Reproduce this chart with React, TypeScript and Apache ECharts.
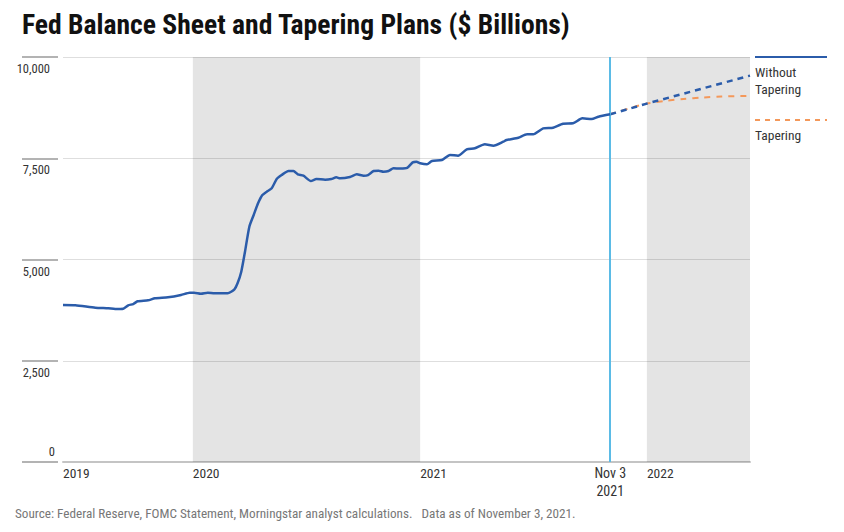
import React, { useEffect, useRef } from "react";
import * as echarts from "echarts";

const FONT = "'Liberation Sans Narrow', 'Roboto Condensed', 'DejaVu Sans Condensed', Roboto, sans-serif";

const TITLE = "Fed Balance Sheet and Tapering Plans ($ Billions)";
const SOURCE = "Source: Federal Reserve, FOMC Statement, Morningstar analyst calculations.   Data as of November 3, 2021.";

const historyDates = [
  "2019-06-06", "2019-06-26", "2019-07-28", "2019-08-18", "2019-08-29", "2019-09-11", "2019-09-19", "2019-09-27",
  "2019-10-04", "2019-10-21", "2019-11-01", "2019-11-22", "2019-12-13", "2019-12-27", "2020-01-03", "2020-01-14",
  "2020-01-25", "2020-02-05", "2020-02-26", "2020-03-08", "2020-03-13", "2020-03-19", "2020-03-25", "2020-04-01",
  "2020-04-08", "2020-04-15", "2020-04-22", "2020-04-29", "2020-05-07", "2020-05-15", "2020-05-23", "2020-06-03",
  "2020-06-11", "2020-06-18", "2020-06-27", "2020-07-09", "2020-07-18", "2020-08-01", "2020-08-11", "2020-08-19",
  "2020-08-25", "2020-09-10", "2020-09-21", "2020-10-02", "2020-10-09", "2020-10-18", "2020-10-26", "2020-11-03",
  "2020-11-11", "2020-11-19", "2020-11-30", "2020-12-11", "2020-12-20", "2020-12-26", "2021-01-01", "2021-01-12",
  "2021-01-20", "2021-02-05", "2021-02-18", "2021-03-03", "2021-03-17", "2021-03-30", "2021-04-15", "2021-04-29",
  "2021-05-15", "2021-05-20", "2021-06-08", "2021-06-22", "2021-07-02", "2021-07-18", "2021-08-03", "2021-08-19",
  "2021-09-04", "2021-09-19", "2021-10-04", "2021-10-15", "2021-11-03",
];
const historyValues = [
  3876, 3870, 3810, 3795, 3778, 3785, 3869, 3900,
  3967, 3992, 4042, 4066, 4123, 4180, 4180, 4156,
  4180, 4165, 4165, 4264, 4412, 4699, 5193, 5810,
  6099, 6387, 6592, 6674, 6757, 6987, 7086, 7185,
  7185, 7103, 7069, 6938, 6987, 6970, 6987, 7029,
  7004, 7036, 7103, 7069, 7086, 7185, 7193, 7168,
  7185, 7251, 7245, 7260, 7399, 7415, 7375, 7350,
  7432, 7457, 7580, 7563, 7720, 7745, 7844, 7810,
  7909, 7950, 8007, 8091, 8091, 8239, 8255, 8354,
  8362, 8486, 8469, 8526, 8585,
];

const noTaperDates = ["2021-11-03", "2022-01-01", "2022-06-16"];
const noTaperValues = [8585, 8850, 9540];

const taperDates = ["2021-11-03", "2021-12-01", "2022-01-01", "2022-02-01", "2022-03-01", "2022-04-01", "2022-05-01", "2022-06-16"];
const taperValues = [8585, 8720, 8850, 8920, 8965, 9000, 9025, 9040];

const AXIS_MIN = "2019-06-06";
const AXIS_MAX = "2022-06-16";
const yearTicks = ["2019-06-06", "2020-01-01", "2021-01-01", "2022-01-01"];
const yearTickLabels = ["2019", "2020", "2021", "2022"];
const shadedYears = [["2020-01-01", "2021-01-01"], ["2022-01-01", "2022-06-16"]];
const todayDate = "2021-11-03";
const todayLabel = "Nov 3\n2021";

const BLUE = "#2b5caa";
const ORANGE = "#f4985a";

const ts = (d: string) => Date.parse(d + "T00:00:00Z");
const zip = (d: string[], v: number[]) => d.map((x, i) => [ts(x), v[i]]);

export default function App() {
  const ref = useRef<HTMLDivElement>(null);
  useEffect(() => {
    if (!ref.current) return;
    const chart = echarts.init(ref.current, null, { renderer: "svg" });
    const tickTs = yearTicks.map(ts);
    const option: any = {
      animation: false,
      textStyle: { fontFamily: FONT },
      grid: { left: 63, right: 94, top: 57, bottom: 70, containLabel: false, outerBoundsMode: "none" },
      xAxis: {
        type: "value",
        min: ts(AXIS_MIN),
        max: ts(AXIS_MAX),
        axisLine: { show: true, onZero: false, lineStyle: { color: "#c4c4c4", width: 2 } },
        axisTick: { show: false },
        splitLine: { show: false },
        axisLabel: {
          customValues: tickTs,
          formatter: (v: number) => {
            const i = tickTs.indexOf(v);
            return i >= 0 ? yearTickLabels[i] : "";
          },
          align: "left",
          margin: 4,
          color: "#333",
          fontSize: 13.5,
          fontFamily: FONT,
          hideOverlap: false,
          showMinLabel: true,
          showMaxLabel: true,
        },
      },
      yAxis: [
        {
          type: "value",
          min: 0,
          max: 10000,
          interval: 2500,
          position: "left",
          offset: 5,
          axisLine: { show: false },
          axisTick: { show: true, length: 36, lineStyle: { color: "#9a9a9a", width: 1.5 } },
          splitLine: { show: true, lineStyle: { color: "#dedede", width: 1 } },
          axisLabel: {
            formatter: (v: number) => (v === 0 ? "" : v.toLocaleString("en-US")),
            verticalAlign: "top",
            padding: [5, 0, 0, 0],
            margin: 8,
            align: "right",
            color: "#333",
            fontSize: 12.5,
            fontFamily: FONT,
          },
        },
        {
          type: "value",
          min: 0,
          max: 10000,
          interval: 2500,
          position: "left",
          offset: 5,
          axisLine: { show: false },
          axisTick: { show: false },
          splitLine: { show: false },
          axisLabel: {
            formatter: (v: number) => (v === 0 ? "0" : ""),
            verticalAlign: "bottom",
            padding: [0, 0, 4, 0],
            margin: 3,
            align: "right",
            color: "#333",
            fontSize: 12.5,
            fontFamily: FONT,
          },
        },
      ],
      series: [
        {
          type: "line",
          name: "Tapering",
          data: zip(taperDates, taperValues),
          showSymbol: false,
          symbol: "none",
          smooth: 0.3,
          lineStyle: { color: ORANGE, width: 2, type: [6, 6] },
          z: 3,
        },
        {
          type: "line",
          name: "Without Tapering",
          data: zip(noTaperDates, noTaperValues),
          showSymbol: false,
          symbol: "none",
          lineStyle: { color: BLUE, width: 2.5, type: [6, 5] },
          z: 4,
        },
        {
          type: "line",
          name: "History",
          data: zip(historyDates, historyValues),
          showSymbol: false,
          symbol: "none",
          smooth: 0.2,
          lineStyle: { color: BLUE, width: 2.5 },
          z: 5,
          markArea: {
            silent: true,
            itemStyle: { color: "rgba(0,0,0,0.105)" },
            data: shadedYears.map(([a, b]) => [{ xAxis: ts(a) }, { xAxis: ts(b) }]),
          },
          markLine: {
            silent: true,
            symbol: "none",
            lineStyle: { color: "#5bbbe6", width: 2, type: "solid" },
            label: {
              show: true,
              position: "start",
              formatter: todayLabel,
              color: "#333",
              fontSize: 14,
              lineHeight: 18,
              fontFamily: FONT,
              distance: 2,
            },
            data: [{ xAxis: ts(todayDate) }],
          },
        },
      ],
      graphic: [
        {
          type: "text",
          left: 22,
          top: 10,
          style: { text: TITLE, fontSize: 27.6, fontWeight: "bold", fontFamily: FONT, fill: "#111" },
        },
        {
          type: "text",
          left: 15,
          top: 507,
          style: { text: SOURCE, fontSize: 13.2, fontFamily: FONT, fill: "#777" },
        },
        {
          type: "line",
          shape: { x1: 755, y1: 57, x2: 827, y2: 57 },
          style: { stroke: BLUE, lineWidth: 2 },
        },
        {
          type: "text",
          left: 755,
          top: 63,
          style: { text: "Without\nTapering", fontSize: 13.5, lineHeight: 17, fontFamily: FONT, fill: "#333" },
        },
        {
          type: "line",
          shape: { x1: 755, y1: 120, x2: 827, y2: 120 },
          style: { stroke: ORANGE, lineWidth: 2, lineDash: [5, 5] },
        },
        {
          type: "text",
          left: 755,
          top: 126,
          style: { text: "Tapering", fontSize: 13.5, lineHeight: 17, fontFamily: FONT, fill: "#333" },
        },
      ],
    };
    chart.setOption(option);
    return () => chart.dispose();
  }, []);
  return (
    <div
      ref={ref}
      style={{ position: "fixed", left: 0, top: 0, width: 844, height: 532, background: "#fff" }}
    />
  );
}
